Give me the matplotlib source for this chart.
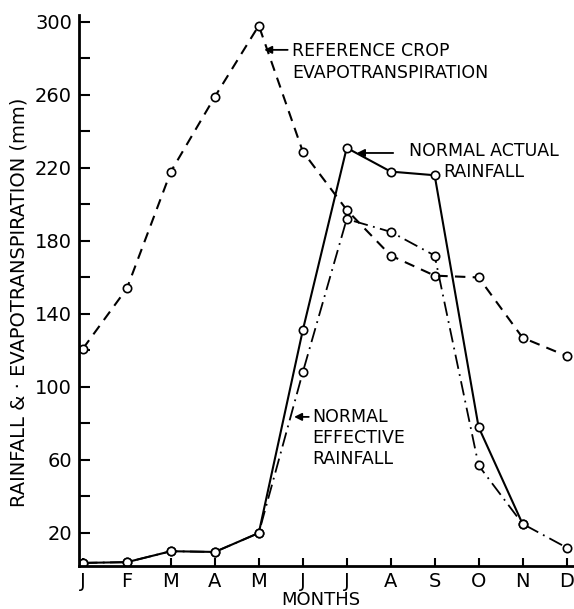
import numpy as np
import matplotlib
matplotlib.use("Agg")
import matplotlib.pyplot as plt

months = ["J", "F", "M", "A", "M", "J", "J", "A", "S", "O", "N", "D"]

# values (mm)
ref_et = [121, 154, 218, 259, 298, 229, 197, 172, 161, 160, 127, 117]
actual_rain = [3.6, 4, 10, 9.6, 20, 131, 231, 218, 216, 78, 25]
effective_rain = [3.6, 4, 10, 9.6, 20, 108, 192, 185, 172, 57, 25, 12]

y_major = list(range(20, 301, 40))
y_minor = list(range(40, 300, 40))

plt.rcParams["font.family"] = "DejaVu Sans"

fig = plt.figure(figsize=(5.74, 6.09), dpi=100)
ax = fig.add_axes([79 / 574, 43 / 609, 495 / 574, 551 / 609])

x = np.arange(len(months))
mk = dict(marker="o", ms=6, mfc="white", mec="black", mew=1.2, color="black")

ax.plot(x, ref_et, lw=1.5, dashes=(5, 3.5), **mk)
ax.plot(x[:len(actual_rain)], actual_rain, lw=1.5, ls="-", **mk)
ax.plot(x, effective_rain, lw=1.3, dashes=(8, 3, 1, 3), **mk)

ax.set_xlim(-0.09, 11.17)
ax.set_ylim(1.9, 303.8)

ax.spines["top"].set_visible(False)
ax.spines["right"].set_visible(False)
ax.spines["left"].set_linewidth(2)
ax.spines["bottom"].set_linewidth(2)

ax.set_xticks(x)
ax.set_xticklabels(months)
ax.set_yticks(y_major)
ax.set_yticks(y_minor, minor=True)
ax.tick_params(axis="y", which="major", direction="in", length=8, width=1.5,
               labelsize=14, pad=5)
ax.tick_params(axis="y", which="minor", direction="in", length=8, width=1.5)
ax.tick_params(axis="x", direction="in", length=6, width=1.5, labelsize=14, pad=4)

ax.set_ylabel("RAINFALL & · EVAPOTRANSPIRATION (mm)", fontsize=14)
ax.yaxis.set_label_coords(-0.102, 0.478)
ax.set_xlabel("MONTHS", fontsize=13)
ax.xaxis.set_label_coords(0.488, -0.046)

arrow = dict(arrowstyle="-|>", lw=1.3, color="black", mutation_scale=11)

# reference crop ET label
ax.annotate("", xy=(4.06, 284.7), xytext=(4.72, 284.7), arrowprops=arrow)
ax.text(4.76, 278, "REFERENCE CROP\nEVAPOTRANSPIRATION", fontsize=12.5,
        ha="left", va="center", linespacing=1.25)

# actual rainfall label
ax.annotate("", xy=(6.17, 228.2), xytext=(7.12, 228.2), arrowprops=arrow)
ax.text(9.12, 223.6, "NORMAL ACTUAL\nRAINFALL", fontsize=12.5,
        ha="center", va="center", multialignment="center", linespacing=1.2)

# effective rainfall label
ax.annotate("", xy=(4.74, 83.6), xytext=(5.2, 83.6), arrowprops=arrow)
ax.text(5.22, 72, "NORMAL\nEFFECTIVE\nRAINFALL", fontsize=12.5,
        ha="left", va="center", linespacing=1.2)

fig.savefig("out.png", dpi=100)
